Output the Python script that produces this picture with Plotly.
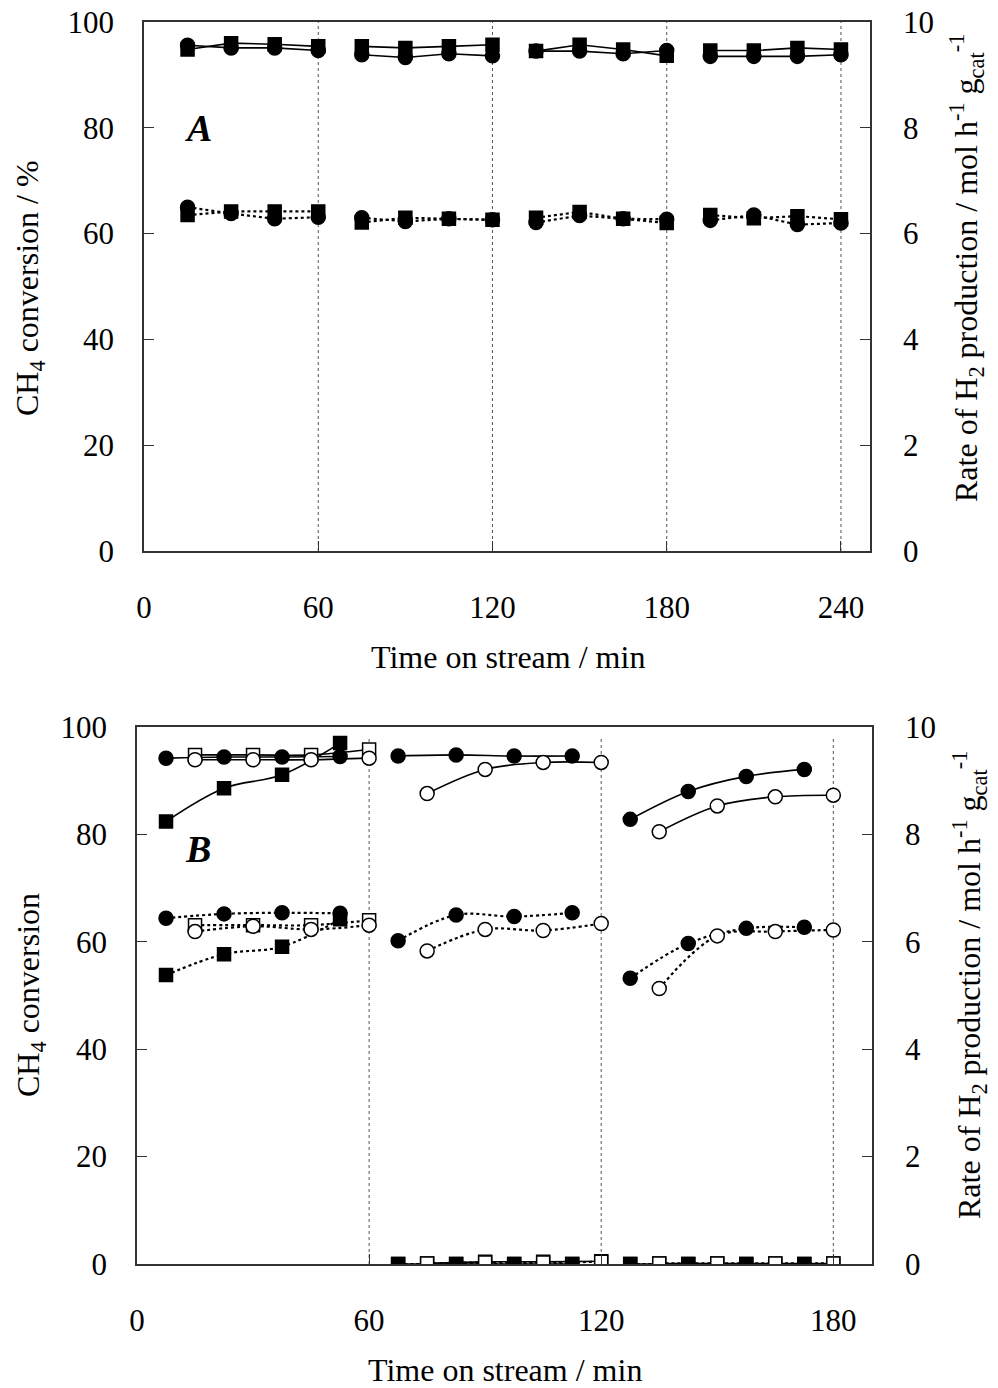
import plotly.graph_objects as go

# ---------------- DATA ----------------
# Panel A: time on stream (min), four 60-min cycles
tA = [[15, 30, 45, 60], [75, 90, 105, 120], [135, 150, 165, 180], [195, 210, 225, 240]]
A_conv_circle = [[95.6, 95.1, 95.1, 94.6], [93.8, 93.3, 94.0, 93.6], [94.5, 94.5, 94.0, 94.6], [93.5, 93.5, 93.5, 93.8]]
A_conv_square = [[94.8, 96.0, 95.8, 95.4], [95.4, 95.1, 95.4, 95.7], [94.5, 95.7, 94.8, 93.6], [94.6, 94.6, 95.1, 94.8]]
A_rate_circle = [[6.50, 6.38, 6.28, 6.31], [6.30, 6.23, 6.28, 6.26], [6.21, 6.34, 6.28, 6.27], [6.25, 6.35, 6.17, 6.20]]
A_rate_square = [[6.35, 6.42, 6.42, 6.42], [6.21, 6.30, 6.28, 6.26], [6.30, 6.41, 6.28, 6.20], [6.35, 6.29, 6.33, 6.27]]
boundaries_A = [60, 120, 180, 240]

# Panel B: three 60-min cycles
tB_a = [[7.5, 22.5, 37.5, 52.5], [67.5, 82.5, 97.5, 112.5], [127.5, 142.5, 157.5, 172.5]]
tB_b = [[15, 30, 45, 60], [75, 90, 105, 120], [135, 150, 165, 180]]
B_conv_fc = [[94.2, 94.4, 94.4, 94.5], [94.6, 94.8, 94.6, 94.6], [82.8, 88.0, 90.8, 92.1]]
B_conv_oc = [[93.9, 93.9, 93.9, 94.2], [87.6, 92.1, 93.4, 93.4], [80.5, 85.3, 87.0, 87.3]]
B_conv_fs = [[82.4, 88.6, 91.1, 97.0], [0.0, 0.0, 0.0, 0.0], [0.0, 0.0, 0.0, 0.0]]
B_conv_os = [[94.8, 94.8, 94.8, 95.8], [0.1, 0.4, 0.4, 0.5], [0.1, 0.1, 0.1, 0.1]]
B_rate_fc = [[6.44, 6.52, 6.54, 6.53], [6.02, 6.50, 6.47, 6.54], [5.32, 5.97, 6.25, 6.27]]
B_rate_oc = [[6.19, 6.29, 6.23, 6.31], [5.83, 6.23, 6.21, 6.34], [5.13, 6.11, 6.19, 6.22]]
B_rate_fs = [[5.38, 5.77, 5.91, 6.42], [0.0, 0.0, 0.0, 0.0], [0.0, 0.0, 0.0, 0.0]]
B_rate_os = [[6.31, 6.31, 6.31, 6.40], [0.01, 0.03, 0.03, 0.04], [0.01, 0.01, 0.01, 0.01]]
boundaries_B = [60, 120, 180]

xticks_A = [0, 60, 120, 180, 240]
xticks_B = [0, 60, 120, 180]
yticks_left = [0, 20, 40, 60, 80, 100]
yticks_right = [0, 2, 4, 6, 8, 10]

# ---------------- HELPERS ----------------
FONT = "Liberation Serif, Times New Roman, serif"
W, H = 998, 1388


def join(groups):
    out = []
    for i, g in enumerate(groups):
        if i:
            out.append(None)
        out.extend(g)
    return out


def px(x):
    return x / W


def py(y):
    return 1 - y / H


fig = go.Figure()


def add(xg, yg, xa, ya, symbol, filled, dash, shape="linear"):
    fig.add_trace(go.Scatter(
        x=join(xg), y=join(yg), xaxis=xa, yaxis=ya,
        mode="lines+markers", connectgaps=False, showlegend=False,
        line=dict(color="black", width=1.6 if dash == "solid" else 2.2, dash=dash, shape=shape),
        marker=dict(symbol=symbol, size=14 if symbol == "circle" else 13,
                    color="black" if filled else "white",
                    line=dict(color="black", width=1.5)),
    ))


DOT = "3px,3px"
# Panel A
add(tA, A_conv_circle, "x", "y", "circle", True, "solid")
add(tA, A_conv_square, "x", "y", "square", True, "solid")
add(tA, A_rate_circle, "x", "y2", "circle", True, DOT)
add(tA, A_rate_square, "x", "y2", "square", True, DOT)

# Panel B
add(tB_a, B_conv_fs, "x2", "y3", "square", True, "solid", "spline")
add(tB_b, B_conv_os, "x2", "y3", "square", False, "solid", "spline")
add(tB_a, B_conv_fc, "x2", "y3", "circle", True, "solid", "spline")
add(tB_b, B_conv_oc, "x2", "y3", "circle", False, "solid", "spline")
add(tB_a, B_rate_fs, "x2", "y4", "square", True, DOT, "spline")
add(tB_b, B_rate_os, "x2", "y4", "square", False, DOT, "spline")
add(tB_a, B_rate_fc, "x2", "y4", "circle", True, DOT, "spline")
add(tB_b, B_rate_oc, "x2", "y4", "circle", False, DOT, "spline")

shapes = []
for b in boundaries_A:
    shapes.append(dict(type="line", xref="x", yref="y", x0=b, x1=b, y0=0, y1=100,
                       line=dict(color="#555", width=1, dash="dot"), layer="below"))
for b in boundaries_B:
    shapes.append(dict(type="line", xref="x2", yref="y3", x0=b, x1=b, y0=0, y1=98,
                       line=dict(color="#555", width=1, dash="dot"), layer="below"))

tickfont = dict(family=FONT, size=31, color="black")
common = dict(showline=True, linecolor="#333", linewidth=1.5, ticks="inside", ticklen=10,
              tickwidth=1.3, tickcolor="#333", showgrid=False, zeroline=False,
              tickfont=tickfont, automargin=False)

dom_xA = [px(144), px(870)]
dom_xB = [px(137), px(872)]
dom_yA = [py(551), py(22)]
dom_yB = [py(1264), py(727)]

fig.update_layout(
    width=W, height=H, margin=dict(l=0, r=0, t=0, b=0, pad=0, autoexpand=False),
    plot_bgcolor="white", paper_bgcolor="white",
    font=dict(family=FONT, color="black"),
    shapes=shapes,
    xaxis=dict(domain=dom_xA, range=[0, 250], tickvals=xticks_A, anchor="y", mirror=True,
               ticklabelstandoff=28, **common),
    yaxis=dict(domain=dom_yA, range=[0, 100], tickvals=yticks_left, anchor="x",
               ticklabelstandoff=22, **common),
    yaxis2=dict(domain=dom_yA, range=[0, 10], tickvals=yticks_right, anchor="x",
                overlaying="y", side="right", ticklabelstandoff=25, **common),
    xaxis2=dict(domain=dom_xB, range=[0, 190], tickvals=xticks_B, anchor="y3", mirror=True,
                ticklabelstandoff=28, **common),
    yaxis3=dict(domain=dom_yB, range=[0, 100], tickvals=yticks_left, anchor="x2",
                ticklabelstandoff=22, **common),
    yaxis4=dict(domain=dom_yB, range=[0, 10], tickvals=yticks_right, anchor="x2",
                overlaying="y3", side="right", ticklabelstandoff=25, **common),
)

tfont = dict(family=FONT, size=32, color="black")
rate_title = "Rate of H<sub>2</sub> production / mol h<sup>-1</sup> g<sub>cat</sub><sup>-1</sup>"
ann = [
    dict(text="<b><i>A</i></b>", x=18.6, y=80, xref="x", yref="y", showarrow=False,
         font=dict(family=FONT, size=38, color="black")),
    dict(text="<b><i>B</i></b>", x=15.8, y=77.3, xref="x2", yref="y3", showarrow=False,
         font=dict(family=FONT, size=38, color="black")),
    dict(text="Time on stream / min", x=px(508), y=py(657), xref="paper", yref="paper",
         showarrow=False, font=tfont, xanchor="center", yanchor="middle"),
    dict(text="Time on stream / min", x=px(505), y=py(1370), xref="paper", yref="paper",
         showarrow=False, font=tfont, xanchor="center", yanchor="middle"),
    dict(text="CH<sub>4</sub> conversion / %", x=px(30), y=py(288), xref="paper", yref="paper",
         showarrow=False, font=tfont, textangle=-90, xanchor="center", yanchor="middle"),
    dict(text="CH<sub>4</sub> conversion", x=px(30), y=py(995), xref="paper", yref="paper",
         showarrow=False, font=tfont, textangle=-90, xanchor="center", yanchor="middle"),
    dict(text=rate_title, x=px(966), y=py(268), xref="paper", yref="paper",
         showarrow=False, font=tfont, textangle=-90, xanchor="center", yanchor="middle"),
    dict(text=rate_title, x=px(970), y=py(985), xref="paper", yref="paper",
         showarrow=False, font=tfont, textangle=-90, xanchor="center", yanchor="middle"),
]
fig.update_layout(annotations=ann)

fig.write_html("out.html", config={"displayModeBar": False},
               post_script="document.body.style.margin='0';document.body.style.overflow='hidden';")
